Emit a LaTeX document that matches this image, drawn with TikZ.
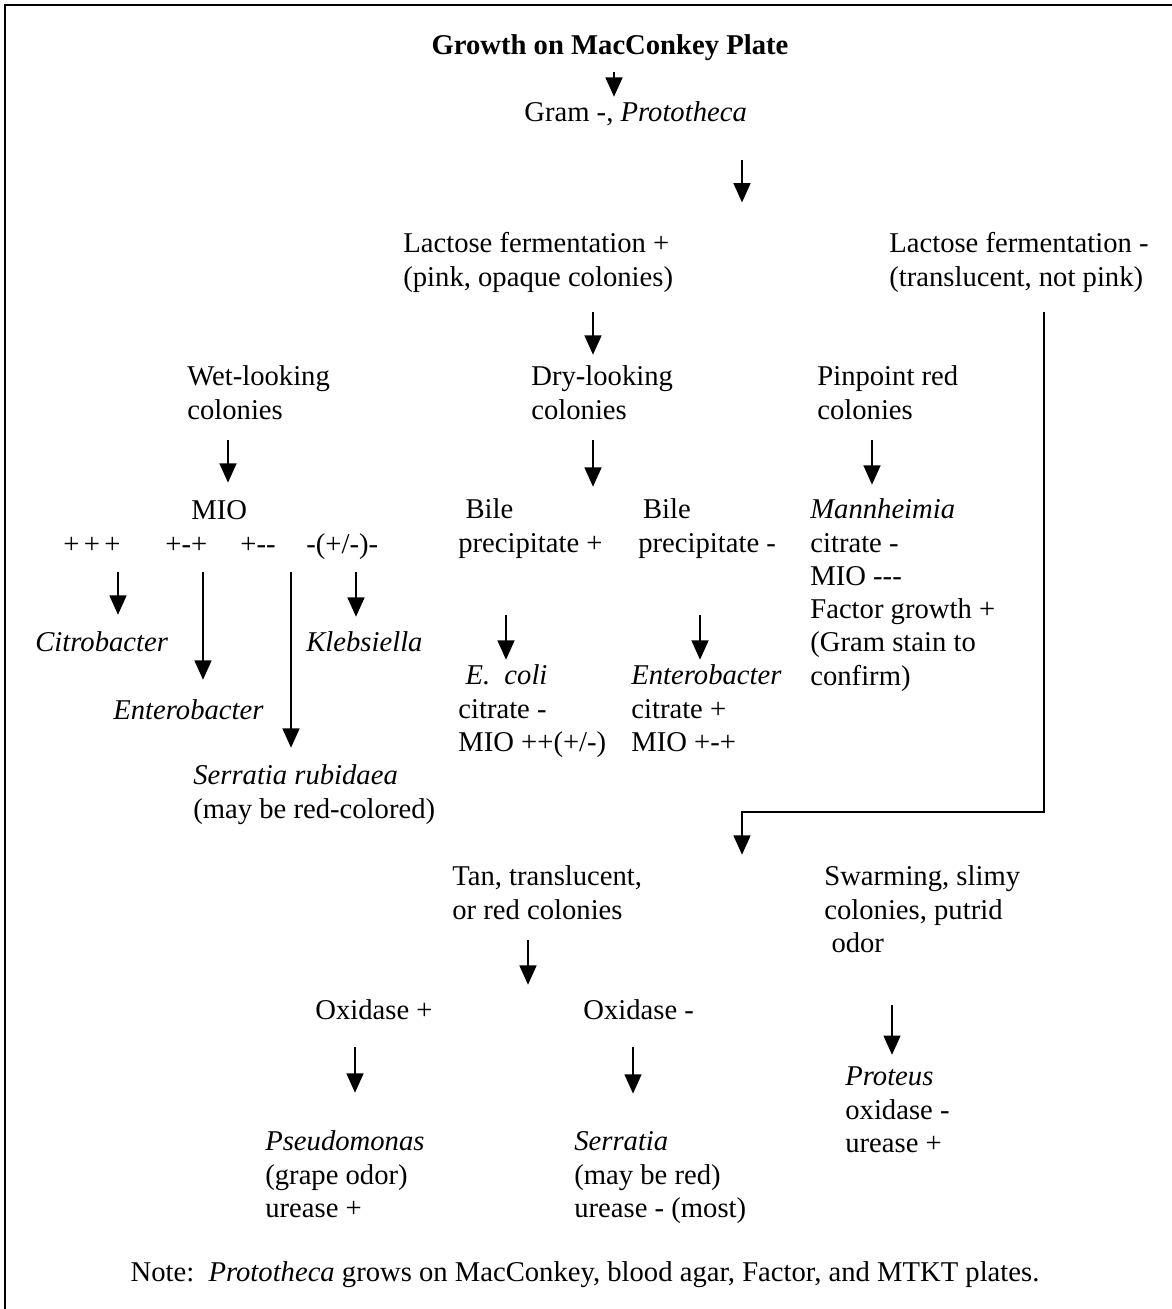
\documentclass[tikz,border=0pt]{standalone}
\usepackage{fontspec}
\setmainfont{Liberation Serif}
\usetikzlibrary{arrows.meta}

\begin{document}
\begin{tikzpicture}[
    txt/.style={anchor=base west, align=left, inner sep=0pt},
    arr/.style={line width=1.4pt, -{Triangle[width=9.5pt,length=11pt]}},
    font=\fontsize{16.3}{18.9}\selectfont
  ]
  \useasboundingbox (0,0) rectangle (23.44,-26.18);
  % frame (only top and left edges show)
  \draw[line width=1.3pt] (23.44,-0.1) -- (0.1,-0.1) -- (0.1,-26.18);

  % base of a multi-line node is its last line
  \node [anchor=base, inner sep=0pt] (growth) at (12.2,-1.08) {\textbf{Growth on MacConkey Plate}};
  \node [txt] (gram) at (10.48,-2.42) {Gram -, \textit{Prototheca}};

  \node [txt] (lacp) at (8.06,-5.724) {Lactose fermentation +\\(pink, opaque colonies)};
  \node [txt] (lacm) at (17.78,-5.724) {Lactose fermentation -\\(translucent, not pink)};

  \node [txt] (wet) at (3.74,-8.384) {Wet-looking\\colonies};
  \node [txt] (dry) at (10.62,-8.384) {Dry-looking\\colonies};
  \node [txt] (pin) at (16.34,-8.384) {Pinpoint red\\colonies};

  \node [txt] (mio) at (3.82,-10.38) {MIO};
  \node [txt] (ppp) at (1.26,-11.06) {+\kern2.5pt+\kern2.5pt+};
  \node [txt] (pmp) at (3.3,-11.06) {+-+};
  \node [txt] (pmm) at (4.8,-11.06) {+-{}-};
  \node [txt] (mpm) at (6.12,-11.06) {-(+/-)-};

  \node [txt] (bilep) at (9.16,-11.044) {\ Bile\\precipitate +};
  \node [txt] (bilem) at (12.76,-11.044) {\,Bile\\precipitate -};
  \node [txt] (mann) at (16.2,-13.70) {\textit{Mannheimia}\\citrate -\\MIO -{}-{}-\\Factor growth +\\(Gram stain to\\confirm)};

  \node [txt] (citro) at (0.7,-13.02) {\textit{Citrobacter}};
  \node [txt] (entero) at (2.26,-14.38) {\textit{Enterobacter}};
  \node [txt] (kleb) at (6.12,-13.02) {\textit{Klebsiella}};
  \node [txt] (serr) at (3.86,-16.364) {\textit{Serratia rubidaea}\\(may be red-colored)};

  \node [txt] (ecoli) at (9.16,-15.028) {\ \textit{E.\ \ coli}\\citrate -\\MIO ++(+/-)};
  \node [txt] (ent2) at (12.62,-15.028) {\textit{Enterobacter}\\citrate +\\MIO +-+};

  \node [txt] (tan) at (9.04,-18.384) {Tan, translucent,\\or red colonies};
  \node [txt] (swarm) at (16.48,-19.048) {Swarming, slimy\\colonies, putrid\\\ odor};

  \node [txt] (oxp) at (6.3,-20.38) {Oxidase +};
  \node [txt] (oxm) at (11.66,-20.38) {Oxidase -};

  \node [txt] (pseudo) at (5.3,-24.348) {\textit{Pseudomonas}\\(grape odor)\\urease +};
  \node [txt] (serrat) at (11.48,-24.348) {\textit{Serratia}\\(may be red)\\urease - (most)};
  \node [txt] (proteus) at (16.9,-23.048) {\textit{Proteus}\\oxidase -\\urease +};

  \node [anchor=base, inner sep=0pt] (note) at (11.7,-25.62) {Note:\ \ \textit{Prototheca} grows on MacConkey, blood agar, Factor, and MTKT plates.};

  % arrow tails
  \coordinate (a1) at (12.28,-1.44);
  \coordinate (a2) at (14.84,-3.2);
  \coordinate (a3) at (11.86,-6.24);
  \coordinate (a4) at (4.56,-8.8);
  \coordinate (a5) at (11.86,-8.8);
  \coordinate (a6) at (17.44,-8.8);
  \coordinate (a7) at (2.36,-11.44);
  \coordinate (a8) at (4.06,-11.44);
  \coordinate (a9) at (5.82,-11.44);
  \coordinate (a10) at (7.12,-11.44);
  \coordinate (a11) at (10.12,-12.3);
  \coordinate (a12) at (14.0,-12.3);
  \coordinate (a13) at (20.88,-6.24);
  \coordinate (a13b) at (14.84,-16.24);
  \coordinate (a14) at (10.56,-18.8);
  \coordinate (a15) at (7.1,-20.94);
  \coordinate (a16) at (12.66,-20.94);
  \coordinate (a17) at (17.84,-20.1);

  \draw[arr, shorten >=0.08cm] (a1) -- (a1 |- gram.north);
  \draw[arr, shorten >=0.6cm] (a2) -- (a2 |- lacp.north);
  \draw[arr, shorten >=0.22cm] (a3) -- (a3 |- dry.north);
  \draw[arr, shorten >=0.34cm] (a4) -- (a4 |- mio.north);
  \draw[arr, shorten >=0.24cm] (a5) -- (a5 |- bilep.north);
  \draw[arr, shorten >=0.28cm] (a6) -- (a6 |- mann.north);
  \draw[arr, shorten >=0.32cm] (a7) -- (a7 |- citro.north);
  \draw[arr, shorten >=0.38cm] (a8) -- (a8 |- entero.north);
  \draw[arr, shorten >=0.34cm] (a9) -- (a9 |- serr.north);
  \draw[arr, shorten >=0.28cm] (a10) -- (a10 |- kleb.north);
  \draw[arr, shorten >=0.1cm] (a11) -- (a11 |- ecoli.north);
  \draw[arr, shorten >=0.1cm] (a12) -- (a12 |- ent2.north);
  \draw[arr, shorten >=0.22cm] (a13) |- (a13b) -- (a13b |- tan.north);
  \draw[arr, shorten >=0.28cm] (a14) -- (a14 |- oxp.north);
  \draw[arr, shorten >=0.76cm] (a15) -- (a15 |- pseudo.north);
  \draw[arr, shorten >=0.76cm] (a16) -- (a16 |- serrat.north);
  \draw[arr, shorten >=0.24cm] (a17) -- (a17 |- proteus.north);
\end{tikzpicture}
\end{document}
